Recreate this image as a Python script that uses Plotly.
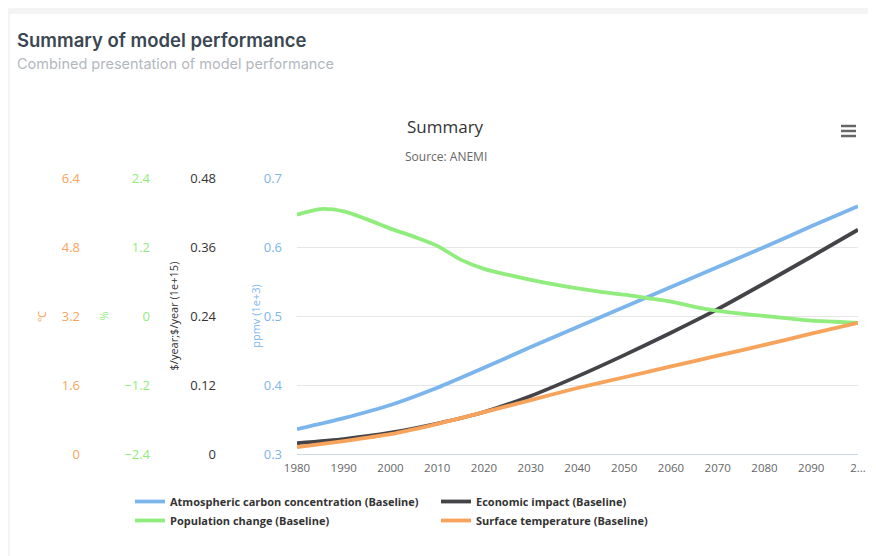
import plotly.graph_objects as go

# ---- data ----
years_decade = [1980, 1990, 2000, 2010, 2020, 2030, 2040, 2050, 2060, 2070, 2080, 2090, 2100]
carbon_ppmv_1e3 = [0.336, 0.352, 0.371, 0.396, 0.425, 0.455, 0.484, 0.513, 0.542, 0.571, 0.600, 0.630, 0.659]
economic_1e15 = [0.019, 0.026, 0.037, 0.053, 0.073, 0.101, 0.135, 0.172, 0.211, 0.252, 0.297, 0.343, 0.390]
surface_temp_c = [0.16, 0.30, 0.46, 0.70, 0.97, 1.25, 1.53, 1.78, 2.03, 2.28, 2.53, 2.79, 3.04]

years_5 = [1980, 1985, 1990, 1995, 2000, 2005, 2010, 2015, 2020, 2025, 2030, 2035, 2040,
           2045, 2050, 2055, 2060, 2065, 2070, 2075, 2080, 2085, 2090, 2095, 2100]
population_pct = [1.76, 1.86, 1.82, 1.68, 1.52, 1.38, 1.22, 0.98, 0.82, 0.72, 0.63, 0.55, 0.48,
                  0.42, 0.37, 0.31, 0.25, 0.16, 0.09, 0.04, 0.00, -0.04, -0.08, -0.10, -0.12]

x_tickvals = [1980, 1990, 2000, 2010, 2020, 2030, 2040, 2050, 2060, 2070, 2080, 2090, 2100]
x_ticktext = ["1980", "1990", "2000", "2010", "2020", "2030", "2040", "2050", "2060", "2070", "2080", "2090", "2…"]

ppmv_ticks = [0.3, 0.4, 0.5, 0.6, 0.7]
econ_ticks = [0, 0.12, 0.24, 0.36, 0.48]
pop_ticks = [-2.4, -1.2, 0, 1.2, 2.4]
temp_ticks = [0, 1.6, 3.2, 4.8, 6.4]

names = ["Atmospheric carbon concentration (Baseline)", "Economic impact (Baseline)",
         "Population change (Baseline)", "Surface temperature (Baseline)"]

BLUE, BLACK, GREEN, ORANGE = "#7cb5ec", "#434348", "#90ed7d", "#f7a35c"

# the page shows the figure offset by the default 8px body margin
OFF = 8
W, H = 876 - OFF, 556 - OFF
def px(x):
    return (x - OFF) / W
def py(y):
    return 1 - (y - OFF) / H

fig = go.Figure()
lw = 3.8
fig.add_trace(go.Scatter(x=years_decade, y=carbon_ppmv_1e3, name=names[0], mode="lines",
                         line=dict(color=BLUE, width=lw, shape="spline", smoothing=0.6), yaxis="y"))
fig.add_trace(go.Scatter(x=years_decade, y=economic_1e15, name=names[1], mode="lines",
                         line=dict(color=BLACK, width=lw, shape="spline", smoothing=0.6), yaxis="y2"))
fig.add_trace(go.Scatter(x=years_5, y=population_pct, name=names[2], mode="lines",
                         line=dict(color=GREEN, width=lw, shape="spline", smoothing=0.8), yaxis="y3"))
fig.add_trace(go.Scatter(x=years_decade, y=surface_temp_c, name=names[3], mode="lines",
                         line=dict(color=ORANGE, width=lw, shape="spline", smoothing=0.6), yaxis="y4"))

YF = 13
yr = [py(454), py(178)]

fig.update_layout(
    width=W, height=H,
    margin=dict(l=0, r=0, t=0, b=0),
    paper_bgcolor="#f4f4f4",
    plot_bgcolor="white",
    font=dict(family="Open Sans", color="#333333"),
    showlegend=True,
    legend=dict(orientation="h", x=px(130), y=py(487), xanchor="left", yanchor="top",
                entrywidth=261, itemwidth=30,
                font=dict(family="Open Sans", size=11, color="#333333", weight="bold"),
                bgcolor="rgba(0,0,0,0)", traceorder="normal"),
    xaxis=dict(domain=[px(297), px(858)], range=[1980, 2100], tickvals=x_tickvals,
               ticktext=x_ticktext, showgrid=False, zeroline=False, showline=True,
               linecolor="#ccd6eb", linewidth=1, tickfont=dict(family="Open Sans", size=11.5, color="#666666"),
               ticks="", ticklabelstandoff=3, automargin=False),
    yaxis=dict(domain=yr, range=[0.3, 0.7], tickvals=ppmv_ticks, showgrid=True,
               gridcolor="#e6e6e6", zeroline=False, tickfont=dict(family="Open Sans", size=YF, color=BLUE),
               ticklabelstandoff=14, automargin=False,
               title=dict(text="ppmv (1e+3)", font=dict(family="Open Sans", size=11, color=BLUE), standoff=0)),
    yaxis2=dict(domain=yr, range=[0, 0.48], tickvals=econ_ticks, ticktext=["0", "0.12", "0.24", "0.36", "0.48"],
                overlaying="y", anchor="free", position=px(216), side="left",
                showgrid=False, zeroline=False, tickfont=dict(family="Open Sans", size=YF, color="#333333"),
                automargin=False,
                title=dict(text="$/year;$/year (1e+15)", font=dict(family="Open Sans", size=11, color="#333333"), standoff=8)),
    yaxis3=dict(domain=yr, range=[-2.4, 2.4], tickvals=pop_ticks, ticktext=["−2.4", "−1.2", "0", "1.2", "2.4"],
                overlaying="y", anchor="free", position=px(150), side="left",
                showgrid=False, zeroline=False, tickfont=dict(family="Open Sans", size=YF, color=GREEN),
                automargin=False,
                title=dict(text="%", font=dict(family="Open Sans", size=11, color=GREEN), standoff=12)),
    yaxis4=dict(domain=yr, range=[0, 6.4], tickvals=temp_ticks, ticktext=["0", "1.6", "3.2", "4.8", "6.4"],
                overlaying="y", anchor="free", position=px(80), side="left",
                showgrid=False, zeroline=False, tickfont=dict(family="Open Sans", size=YF, color=ORANGE),
                automargin=False,
                title=dict(text="℃", font=dict(family="Open Sans", size=11, color=ORANGE), standoff=11)),
    shapes=[
        dict(type="rect", xref="paper", yref="paper", x0=px(10), x1=1.05, y0=-0.05, y1=py(14),
             fillcolor="white", line=dict(width=0), layer="below"),
        dict(type="line", xref="paper", yref="paper", x0=px(841), x1=px(856), y0=py(126), y1=py(126),
             line=dict(color="#666666", width=2.5)),
        dict(type="line", xref="paper", yref="paper", x0=px(841), x1=px(856), y0=py(131), y1=py(131),
             line=dict(color="#666666", width=2.5)),
        dict(type="line", xref="paper", yref="paper", x0=px(841), x1=px(856), y0=py(136), y1=py(136),
             line=dict(color="#666666", width=2.5)),
    ],
    annotations=[
        dict(text="Summary of model performance", xref="paper", yref="paper", x=px(15), y=py(40),
             xanchor="left", yanchor="middle", showarrow=False,
             font=dict(family="Inter", size=18.5, color="#3a4651", weight=600)),
        dict(text="Combined presentation of model performance", xref="paper", yref="paper", x=px(15), y=py(64),
             xanchor="left", yanchor="middle", showarrow=False,
             font=dict(family="Inter", size=14.5, color="#b3b8be")),
        dict(text="Summary", xref="paper", yref="paper", x=px(445), y=py(127),
             xanchor="center", yanchor="middle", showarrow=False,
             font=dict(family="Open Sans", size=17, color="#333333")),
        dict(text="Source: ANEMI", xref="paper", yref="paper", x=px(446), y=py(157),
             xanchor="center", yanchor="middle", showarrow=False,
             font=dict(family="Open Sans", size=12, color="#666666")),
    ],
)

fig.write_html("out.html")
